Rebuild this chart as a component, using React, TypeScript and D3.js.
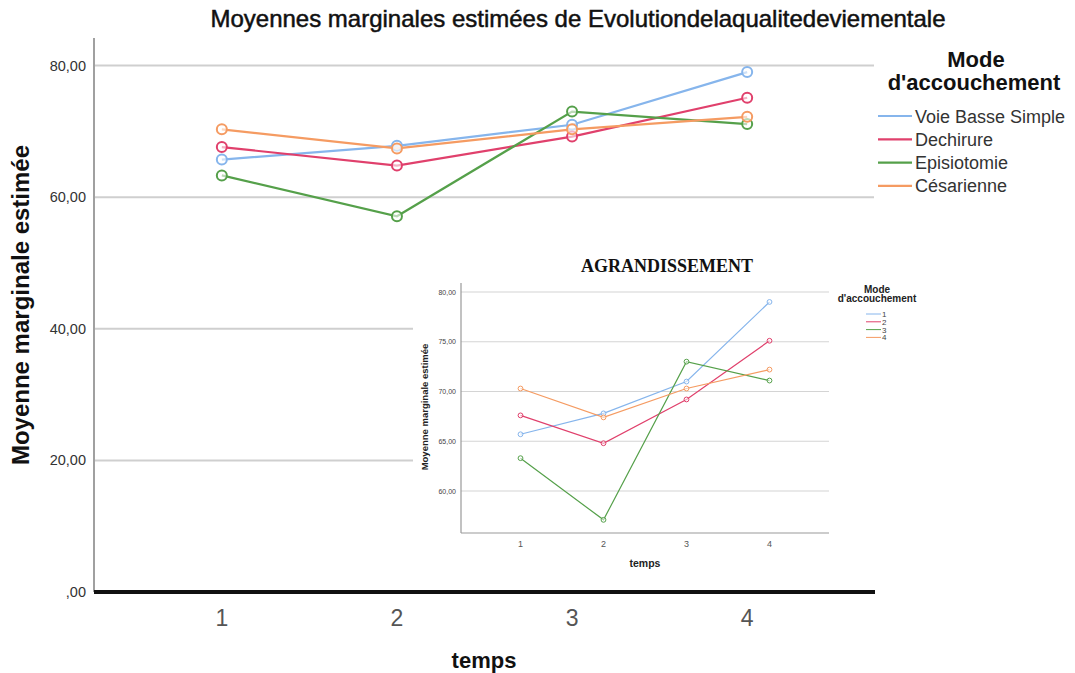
import React from "react";
import * as d3 from "d3";

const categories = ["1", "2", "3", "4"];
const seriesNames = ["Voie Basse Simple", "Dechirure", "Episiotomie", "Césarienne"];
const insetSeriesNames = ["1", "2", "3", "4"];
const voieBasseSimple = [65.7, 67.8, 71.0, 79.0];
const dechirure = [67.6, 64.8, 69.2, 75.1];
const episiotomie = [63.3, 57.1, 73.0, 71.1];
const cesarienne = [70.3, 67.4, 70.3, 72.2];
const seriesColors = ["#86b5ec", "#e0406c", "#55a04a", "#f59b62"];
const mainTicks = [0, 20, 40, 60, 80];
const insetTicks = [60, 65, 70, 75, 80];

const allSeries = [voieBasseSimple, dechirure, episiotomie, cesarienne];
const fmt = (v: number) => (v === 0 ? ",00" : v.toFixed(2).replace(".", ","));
const FONT = "'Liberation Sans', Arial, sans-serif";

export default function App() {
  // main chart scales
  const x = d3.scalePoint<string>().domain(categories).range([94, 875]).padding(0.73);
  const y = d3.scaleLinear().domain([0, 80]).range([592, 65.5]);
  const line = d3
    .line<number>()
    .x((_, i) => x(categories[i]) as number)
    .y((d) => y(d));

  // inset scales
  const xi = d3.scalePoint<string>().domain(categories).range([461, 829]).padding(0.717);
  const yi = d3.scaleLinear().domain([60, 80]).range([491, 292]);
  const linei = d3
    .line<number>()
    .x((_, i) => xi(categories[i]) as number)
    .y((d) => yi(d));

  return (
    <svg
      width={1075}
      height={673}
      style={{ position: "absolute", left: 0, top: 0, background: "#fff" }}
      fontFamily={FONT}
    >
      <rect x={0} y={0} width={1075} height={673} fill="#fff" />
      {/* Title */}
      <text
        x={578}
        y={27}
        textAnchor="middle"
        fontSize={24}
        fill="#111"
        stroke="#111"
        strokeWidth={0.5}
      >
        Moyennes marginales estimées de Evolutiondelaqualitedeviementale
      </text>

      {/* main gridlines */}
      {mainTicks
        .filter((t) => t > 0)
        .map((t) => (
          <line key={t} x1={94} x2={874} y1={y(t)} y2={y(t)} stroke="#cfcfcf" strokeWidth={2} />
        ))}
      {/* main y axis */}
      <line x1={94} x2={94} y1={38} y2={592} stroke="#a0a0a0" strokeWidth={2} />
      {mainTicks.map((t) => (
        <text key={t} x={86} y={y(t) + 5} textAnchor="end" fontSize={14.5} fill="#333">
          {fmt(t)}
        </text>
      ))}
      <text
        transform={`translate(29,${305}) rotate(-90)`}
        textAnchor="middle"
        fontSize={24}
        fontWeight="bold"
        fill="#111"
      >
        Moyenne marginale estimée
      </text>

      {/* main lines */}
      {allSeries.map((s, k) => (
        <g key={k}>
          <path d={line(s) as string} fill="none" stroke={seriesColors[k]} strokeWidth={2.2} />
        </g>
      ))}
      {allSeries.map((s, k) => (
        <g key={k}>
          {s.map((v, i) => (
            <circle
              key={i}
              cx={x(categories[i])}
              cy={y(v)}
              r={5}
              fill="#fff"
              fillOpacity={0.6}
              stroke={seriesColors[k]}
              strokeWidth={2}
            />
          ))}
        </g>
      ))}

      {/* inset white box */}
      <rect x={413} y={246} width={530} height={340} fill="#fff" />

      {/* main x axis */}
      <line x1={94} x2={875} y1={592} y2={592} stroke="#111" strokeWidth={4} />
      {categories.map((c) => (
        <text key={c} x={x(c)} y={626} textAnchor="middle" fontSize={23} fill="#555">
          {c}
        </text>
      ))}
      <text x={484} y={668} textAnchor="middle" fontSize={22} fontWeight="bold" fill="#111">
        temps
      </text>

      {/* main legend */}
      <text x={976} y={67} textAnchor="middle" fontSize={22} fontWeight="bold" fill="#111">
        Mode
      </text>
      <text x={974} y={90} textAnchor="middle" fontSize={22} fontWeight="bold" fill="#111">
        d'accouchement
      </text>
      {seriesNames.map((n, k) => (
        <g key={n}>
          <line
            x1={878}
            x2={912}
            y1={116 + k * 23.3}
            y2={116 + k * 23.3}
            stroke={seriesColors[k]}
            strokeWidth={2.2}
          />
          <text x={915} y={122.5 + k * 23.3} fontSize={18} fill="#333">
            {n}
          </text>
        </g>
      ))}

      {/* inset */}
      <text
        x={667}
        y={272}
        textAnchor="middle"
        fontSize={18}
        fontWeight="bold"
        fontFamily="'Liberation Serif', 'Times New Roman', serif"
        fill="#111"
      >
        AGRANDISSEMENT
      </text>
      {insetTicks.map((t) => (
        <line key={t} x1={461} x2={829} y1={yi(t)} y2={yi(t)} stroke="#d4d4d4" strokeWidth={1.2} />
      ))}
      <line x1={461} x2={461} y1={283} y2={533} stroke="#999" strokeWidth={1.2} />
      <line x1={461} x2={829} y1={533} y2={533} stroke="#999" strokeWidth={1.2} />
      {insetTicks.map((t) => (
        <text key={t} x={456} y={yi(t) + 2.5} textAnchor="end" fontSize={7} fill="#444">
          {fmt(t)}
        </text>
      ))}
      {categories.map((c) => (
        <text key={c} x={xi(c)} y={547} textAnchor="middle" fontSize={9} fill="#555">
          {c}
        </text>
      ))}
      <text x={645} y={567} textAnchor="middle" fontSize={10.5} fontWeight="bold" fill="#222">
        temps
      </text>
      <text
        transform={`translate(428,${407}) rotate(-90)`}
        textAnchor="middle"
        fontSize={9.5}
        fontWeight="bold"
        fill="#222"
      >
        Moyenne marginale estimée
      </text>
      {allSeries.map((s, k) => (
        <path key={k} d={linei(s) as string} fill="none" stroke={seriesColors[k]} strokeWidth={1.2} />
      ))}
      {allSeries.map((s, k) => (
        <g key={k}>
          {s.map((v, i) => (
            <circle
              key={i}
              cx={xi(categories[i])}
              cy={yi(v)}
              r={2.4}
              fill="#fff"
              fillOpacity={0.5}
              stroke={seriesColors[k]}
              strokeWidth={1}
            />
          ))}
        </g>
      ))}
      {/* inset legend */}
      <text x={877} y={293} textAnchor="middle" fontSize={10} fontWeight="bold" fill="#222">
        Mode
      </text>
      <text x={877} y={302} textAnchor="middle" fontSize={10} fontWeight="bold" fill="#222">
        d'accouchement
      </text>
      {insetSeriesNames.map((n, k) => (
        <g key={n}>
          <line
            x1={866}
            x2={881}
            y1={314 + k * 7.8}
            y2={314 + k * 7.8}
            stroke={seriesColors[k]}
            strokeWidth={1}
          />
          <text x={882} y={317 + k * 7.8} fontSize={8} fill="#444">
            {n}
          </text>
        </g>
      ))}
    </svg>
  );
}
